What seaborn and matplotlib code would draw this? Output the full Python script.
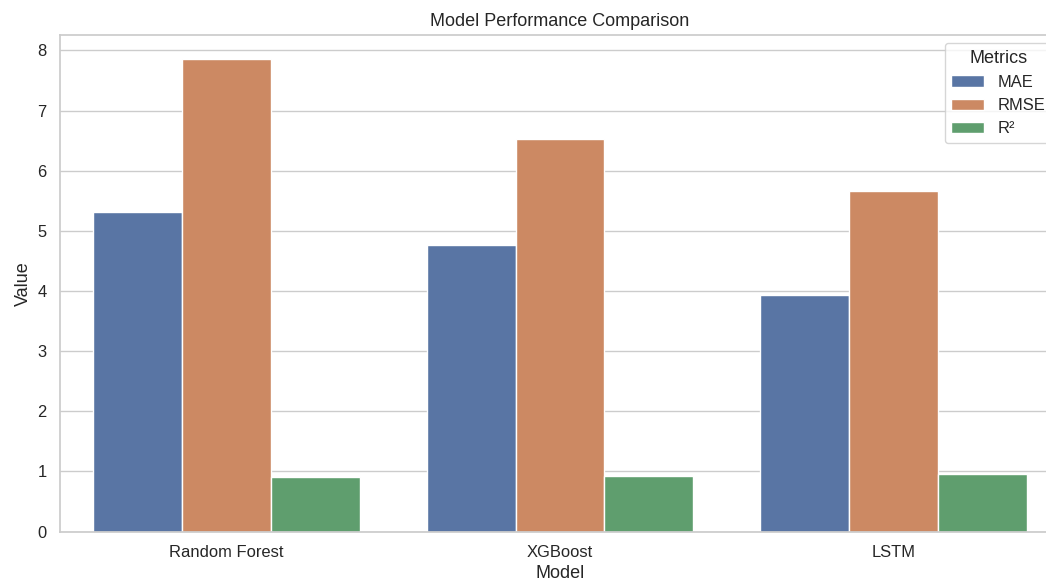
import matplotlib
matplotlib.use("Agg")
import matplotlib.pyplot as plt
import seaborn as sns
import pandas as pd

models = ["Random Forest", "XGBoost", "LSTM"]
metrics = ["MAE", "RMSE", "R²"]
mae = [5.32, 4.77, 3.93]
rmse = [7.85, 6.53, 5.67]
r2 = [0.90, 0.92, 0.95]

rows = []
for i, m in enumerate(models):
    rows.append((m, "MAE", mae[i]))
    rows.append((m, "RMSE", rmse[i]))
    rows.append((m, "R²", r2[i]))
df = pd.DataFrame(rows, columns=["Model", "Metrics", "Value"])

sns.set_theme(style="whitegrid", font_scale=1.08)
plt.rcParams['font.family'] = ['Liberation Sans', 'DejaVu Sans']

fig = plt.figure(figsize=(10.46, 5.79), dpi=100)
ax = fig.add_axes([0.0574, 0.082, 0.956, 0.858])
sns.barplot(data=df, x="Model", y="Value", hue="Metrics", hue_order=metrics, ax=ax)
ax.set_title("Model Performance Comparison")
ax.set_ylim(0, 8.26)
ax.legend(title="Metrics", loc="upper right")
fig.savefig("out.png", dpi=100)
